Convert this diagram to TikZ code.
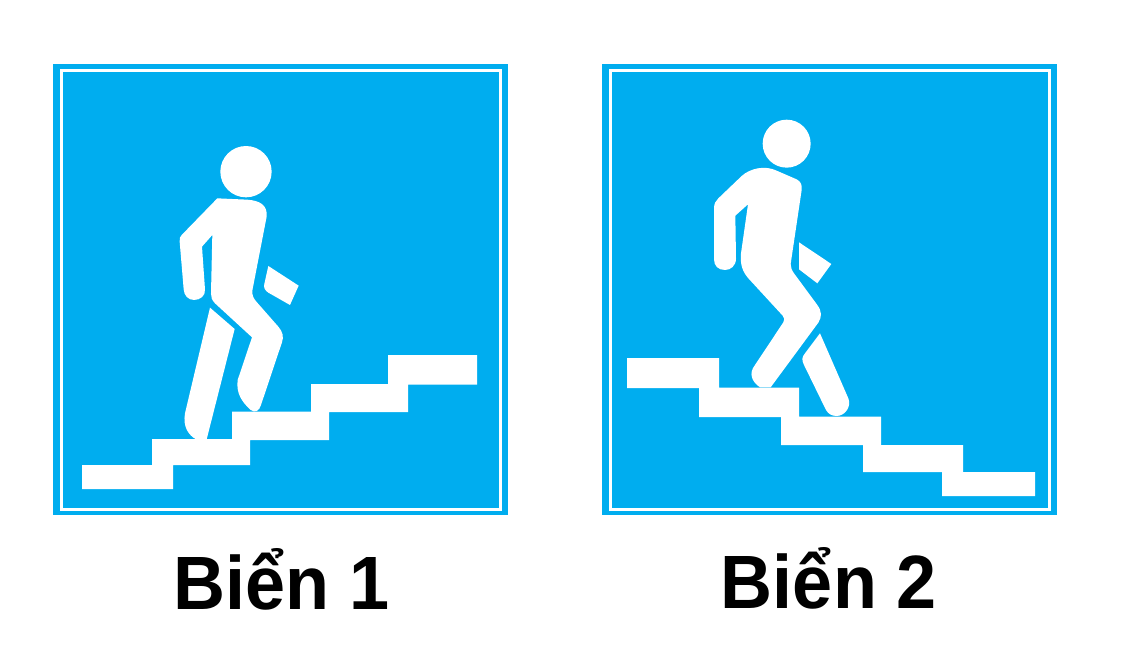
\documentclass[tikz,border=0pt]{standalone}
\usepackage{fontspec}
\usepackage{graphicx}
\setmainfont{Liberation Sans}
\definecolor{signblue}{HTML}{00ADEF}
\tikzset{
  signbg/.style={fill=signblue,draw=none},
  signline/.style={draw=white,line width=3pt,fill=none},
  shapew/.style={fill=white,draw=none},
  caption/.style={font=\bfseries\fontsize{72}{72}\selectfont,text=black,anchor=base,inner sep=0pt}
}
\begin{document}
\begin{tikzpicture}[x=1pt,y=-1pt]
\useasboundingbox (0,0) rectangle (1134,654);
\fill[white] (0,0) rectangle (1134,654);
% Sign 1
\path[signbg] (53,64) rectangle (508,515);
\path[signline] (61,70) rectangle (500,509);
\path[shapew] (82,465)--(152,465)--(152,439)--(232,439)--(232,411.5)--(311,411.5)--(311,384)--(388,384)--(388,355)--(477,355)--(477,384.5)--(408,384.5)--(408,412)--(329,412)--(329,440)--(250,440)--(250,465)--(173,465)--(173,489)--(82,489)--cycle;
\begin{scope}[shift={(160,130)},x=0.3333pt,y=-0.3333pt]
\path[shapew] (258,125) circle[radius=77];
\path[shapew] (172,205) -- (262,209) .. controls (300,212) and (323,225) .. (320,260)
  -- (277,482) .. controls (276,495) and (280,505) .. (290,516)
  -- (355,590) .. controls (368,605) and (372,620) .. (366,637)
  -- (303,825) .. controls (298,843) and (285,850) .. (272,840)
  .. controls (245,815) and (228,790) .. (233,750)
  -- (276,622) -- (165,520) .. controls (155,510) and (153,500) .. (153,490)
  -- (157,315) -- (126,350) -- (135,478) .. controls (137,498) and (120,510) .. (102,510)
  .. controls (85,510) and (72,497) .. (71,478)
  -- (59,335) .. controls (58,325) and (60,320) .. (65,315) -- cycle;
\path[shapew] (150,533) -- (224,597) -- (140,928) -- (108,928) .. controls (85,915) and (68,890) .. (75,850) -- cycle;
\path[shapew] (325,408) -- (416,467) -- (390,525) -- (325,488) .. controls (315,482) and (310,472) .. (313,462) -- cycle;
\end{scope}
% Sign 2
\path[signbg] (602,64) rectangle (1057,515);
\path[signline] (610.5,70) rectangle (1049.5,509);
\path[shapew] (627,358)--(719,358)--(719,387.5)--(799,387.5)--(799,416.5)--(881,416.5)--(881,445)--(963,445)--(963,472)--(1035,472)--(1035,496)--(942,496)--(942,472)--(863,472)--(863,445)--(781,445)--(781,417)--(699,417)--(699,388)--(627,388)--cycle;
\begin{scope}[shift={(700,110)},x=0.3333pt,y=-0.3333pt]
\path[shapew] (260,101) circle[radius=72];
\path[shapew] (125,198) .. controls (150,175) and (195,165) .. (230,182)
  -- (290,208) .. controls (302,214) and (307,225) .. (305,240)
  -- (272,462) .. controls (272,472) and (275,480) .. (282,490)
  -- (352,585) .. controls (366,605) and (366,620) .. (355,638)
  -- (212,832) -- (180,832) .. controls (155,815) and (145,790) .. (165,765)
  -- (250,637) .. controls (254,630) and (254,624) .. (248,617)
  -- (145,505) .. controls (128,485) and (120,465) .. (123,430)
  -- (144,283) -- (106,317) -- (108,445) .. controls (108,468) and (92,480) .. (75,480)
  .. controls (55,480) and (42,468) .. (42,448)
  -- (42,295) .. controls (42,282) and (47,272) .. (55,265) -- cycle;
\path[shapew] (360,670) -- (445,865) .. controls (455,890) and (435,918) .. (410,918)
  .. controls (395,918) and (385,912) .. (378,900)
  -- (312,765) .. controls (305,750) and (305,742) .. (315,730) -- cycle;
\path[shapew] (297,397) -- (394,462) -- (352,520) -- (297,478) -- cycle;
\end{scope}
\node[caption] (cap1) at (282,609.5) {\scalebox{1}[1.05]{Biển 1}};
\node[caption] (cap2) at (829,608.5) {\scalebox{1}[1.05]{Biển 2}};
\end{tikzpicture}
\end{document}
